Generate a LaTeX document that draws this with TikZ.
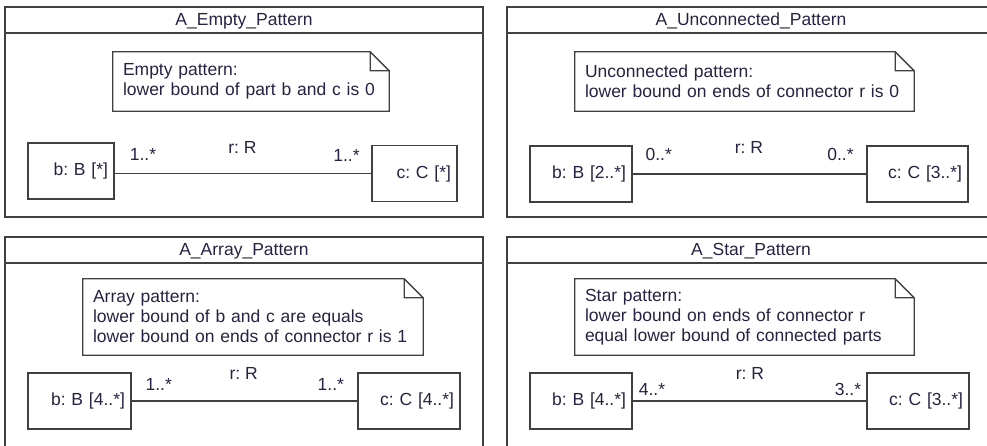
\documentclass[tikz,border=0pt]{standalone}
\usepackage{fontspec}
\setmainfont{Liberation Sans}
\usetikzlibrary{positioning}
\definecolor{umlgray}{RGB}{64,64,64}
\definecolor{umlink}{RGB}{38,34,66}

\tikzset{
  frame/.style={draw=umlgray, line width=1.3pt},
  part/.style={draw=umlgray, line width=1.3pt, minimum height=56pt,
               inner xsep=6pt, align=right, text width=#1},
  notetext/.style={inner xsep=10pt, align=left, text width=#1},
  mult/.style={inner sep=1pt},
  conn/.style={draw=umlgray, line width=1.3pt}
}

\begin{document}
\frenchspacing
\begin{tikzpicture}[x=1pt, y=-1pt,
    every node/.style={font=\fontsize{17.5}{20}\selectfont, text=umlink}]
  \useasboundingbox (0,0) rectangle (987,445);
  \clip (0,0) rectangle (987,445);

  % frames with title bands
  \draw[frame] (5,7) rectangle (483,217) (5,33) -- (483,33);
  \draw[frame] (507,7) rectangle (995,217) (507,33) -- (995,33);
  \draw[frame] (5,237) rectangle (483,460) (5,263) -- (483,263);
  \draw[frame] (507,237) rectangle (995,460) (507,263) -- (995,263);

  \node (t1) at (244,21) {A\_Empty\_Pattern};
  \node (t2) at (751,21) {A\_Unconnected\_Pattern};
  \node (t3) at (244,251) {A\_Array\_Pattern};
  \node (t4) at (751,251) {A\_Star\_Pattern};

  % comments
  \node[notetext=256pt, minimum height=59pt] (n1) at (251,81.5)
    {Empty pattern:\\lower bound of part b and c is 0};
  \node[notetext=319pt, minimum height=59pt] (n2) at (744.5,81.5)
    {Unconnected pattern:\\lower bound on ends of connector r is 0};
  \node[notetext=320pt, minimum height=76pt] (n3) at (253,317)
    {Array pattern:\\lower bound of b and c are equals\\lower bound on ends of connector r is 1};
  \node[notetext=319pt, minimum height=76pt] (n4) at (744.5,317)
    {Star pattern:\\lower bound on ends of connector r\\equal lower bound of connected parts};
  \foreach \n in {n1,n2,n3,n4}
    \draw[frame] (\n.north west) -- ([xshift=-19pt]\n.north east)
      -- ([yshift=-19pt]\n.north east) -- (\n.south east)
      -- (\n.south west) -- cycle
      ([xshift=-19pt]\n.north east) |- ([yshift=-19pt]\n.north east);

  % parts
  \node[part=74pt] (b1) at (71,171) {b: B [*]};
  \node[part=73pt] (c1) at (414.5,173.5) {c: C [*]};
  \node[part=90pt] (b2) at (581,174) {b: B [2..*]};
  \node[part=89pt] (c2) at (917.5,174) {c: C [3..*]};
  \node[part=91pt] (b3) at (79.5,401) {b: B [4..*]};
  \node[part=90pt] (c3) at (409,401) {c: C [4..*]};
  \node[part=90pt] (b4) at (581,401) {b: B [4..*]};
  \node[part=90pt] (c4) at (918,401) {c: C [3..*]};

  % connectors
  \draw[conn] (b1.east |- c1.west) -- (c1.west);
  \draw[conn] (b2.east) -- (c2.west);
  \draw[conn] (b3.east) -- (c3.west);
  \draw[conn] (b4.east) -- (c4.west);

  % connector labels
  \node[mult] (m1b) at (143,154) {1..*};
  \node[mult] (r1) at (242.5,147) {r: R};
  \node[mult] (m1c) at (346.5,155) {1..*};
  \node[mult] (m2b) at (658.7,154) {0..*};
  \node[mult] (r2) at (749,147) {r: R};
  \node[mult] (m2c) at (840.5,154) {0..*};
  \node[mult] (m3b) at (158.7,384) {1..*};
  \node[mult] (r3) at (243.7,373) {r: R};
  \node[mult] (m3c) at (330.8,384) {1..*};
  \node[mult] (m4b) at (652,389) {4..*};
  \node[mult] (r4) at (750,373) {r: R};
  \node[mult] (m4c) at (848,389) {3..*};
\end{tikzpicture}
\end{document}
